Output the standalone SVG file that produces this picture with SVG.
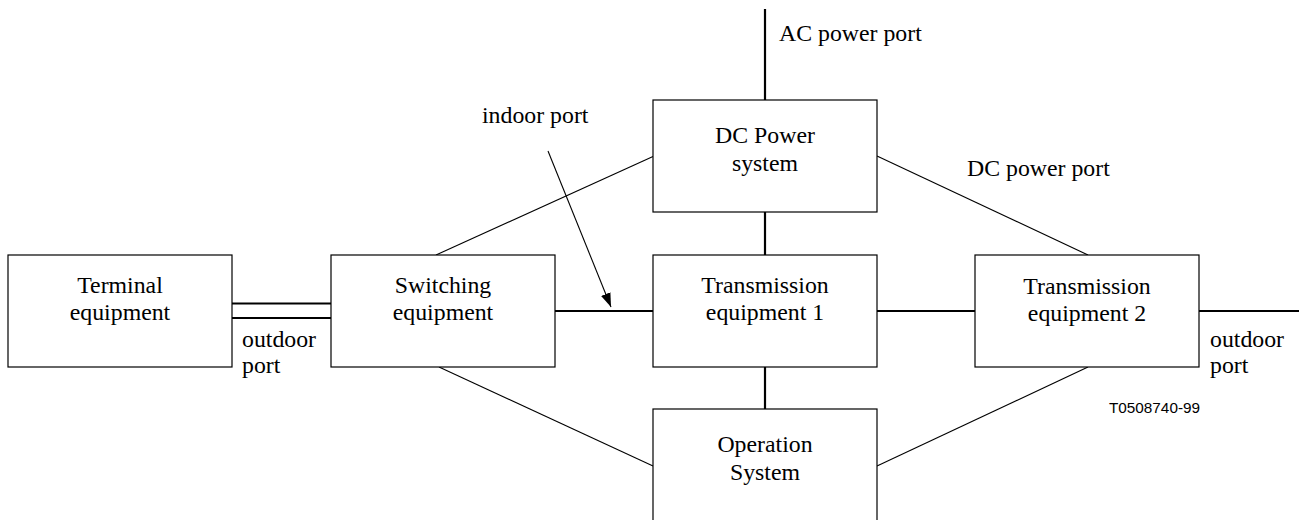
<svg xmlns="http://www.w3.org/2000/svg" width="1299" height="520" viewBox="0 0 1299 520">
<defs>
<style>
.box{fill:#fff;stroke:#000;stroke-width:1.2}
.t{font-family:"Liberation Serif","Times New Roman",serif;font-size:23.8px;fill:#000}
.c{text-anchor:middle}
.thick{stroke:#000;stroke-width:2.2;fill:none}
.thin{stroke:#000;stroke-width:1.1;fill:none}
</style>
<marker id="ah" viewBox="0 0 14 10" refX="14" refY="5" markerWidth="14" markerHeight="10" markerUnits="userSpaceOnUse" orient="auto">
<path d="M0,0 L14,5 L0,10 Z" fill="#000"/>
</marker>
</defs>
<rect width="1299" height="520" fill="#fff"/>
<g id="connectors">
<line class="thick" x1="765" y1="9" x2="765" y2="100"/>
<line class="thick" x1="765" y1="212" x2="765" y2="255"/>
<line class="thick" x1="765" y1="367" x2="765" y2="409"/>
<line class="thick" x1="555" y1="311" x2="653" y2="311"/>
<line class="thick" x1="877" y1="311" x2="975" y2="311"/>
<line class="thick" x1="1199" y1="311" x2="1299" y2="311"/>
<line class="thick" x1="232" y1="303.5" x2="331" y2="303.5"/>
<line class="thick" x1="232" y1="318" x2="331" y2="318"/>
<line class="thin" x1="436" y1="255" x2="653" y2="156.5"/>
<line class="thin" x1="877" y1="156" x2="1088" y2="255"/>
<line class="thin" x1="439" y1="367" x2="653" y2="466"/>
<line class="thin" x1="1088" y1="367" x2="877" y2="466"/>
<line class="thin" x1="548" y1="151" x2="611" y2="307" marker-end="url(#ah)"/>
</g>
<g id="terminal">
<rect class="box" x="8" y="255" width="224" height="112"/>
<text class="t c" x="120" y="293">Terminal</text>
<text class="t c" x="120" y="320">equipment</text>
</g>
<g id="switching">
<rect class="box" x="331" y="255" width="224" height="112"/>
<text class="t c" x="443" y="293">Switching</text>
<text class="t c" x="443" y="320">equipment</text>
</g>
<g id="dcpower">
<rect class="box" x="653" y="100" width="224" height="112"/>
<text class="t c" x="765" y="143">DC Power</text>
<text class="t c" x="765" y="171">system</text>
</g>
<g id="trans1">
<rect class="box" x="653" y="255" width="224" height="112"/>
<text class="t c" x="765" y="293">Transmission</text>
<text class="t c" x="765" y="320">equipment 1</text>
</g>
<g id="trans2">
<rect class="box" x="975" y="255" width="224" height="112"/>
<text class="t c" x="1087" y="294">Transmission</text>
<text class="t c" x="1087" y="321">equipment 2</text>
</g>
<g id="opsys">
<rect class="box" x="653" y="409" width="224" height="130"/>
<text class="t c" x="765" y="452">Operation</text>
<text class="t c" x="765" y="480">System</text>
</g>
<g id="labels">
<text class="t" x="242" y="347">outdoor</text>
<text class="t" x="242" y="373">port</text>
<text class="t" x="1210" y="347">outdoor</text>
<text class="t" x="1210" y="373">port</text>
<text class="t" x="482" y="123">indoor port</text>
<text class="t" x="779" y="41">AC power port</text>
<text class="t" x="967" y="176">DC power port</text>
<text x="1109" y="413" font-family="'Liberation Sans',Arial,sans-serif" font-size="14" textLength="91" lengthAdjust="spacingAndGlyphs">T0508740-99</text>
</g>
</svg>
